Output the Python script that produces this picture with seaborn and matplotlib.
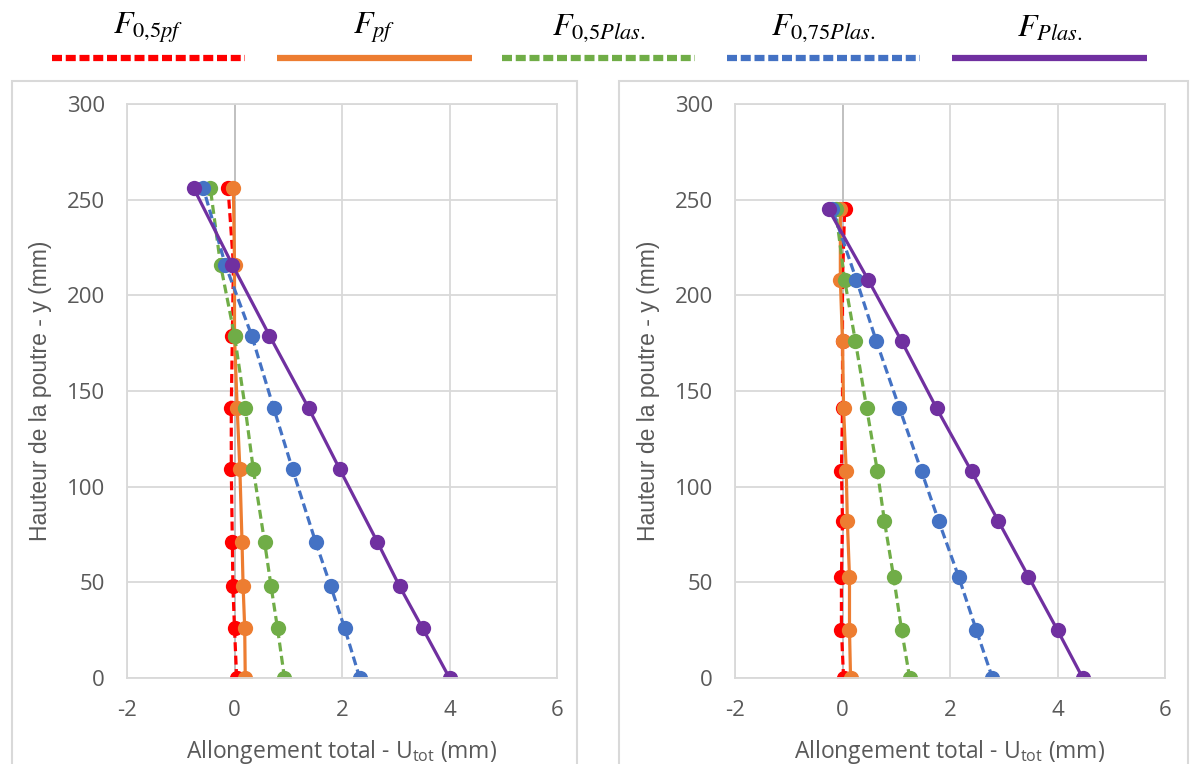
import matplotlib
matplotlib.use('Agg')
import matplotlib.pyplot as plt
import seaborn as sns
import pandas as pd
from matplotlib.lines import Line2D
from matplotlib.patches import Rectangle

# series keys and legend labels
series = ['F05pf', 'Fpf', 'F05plas', 'F075plas', 'Fplas']
labels = [r'$F_{0{,}5pf}$', r'$F_{pf}$', r'$F_{0{,}5Plas.}$',
          r'$F_{0{,}75Plas.}$', r'$F_{Plas.}$']

# left panel - heights (mm) and elongations (mm)
left_y = [0, 26, 48, 71, 109, 141, 179, 216, 256]
left_red = [0.04, 0.00, -0.03, -0.04, -0.06, -0.06, -0.04, -0.02, -0.12]
left_orange = [0.20, 0.19, 0.16, 0.14, 0.10, 0.05, 0.00, 0.00, -0.02]
left_green = [0.93, 0.80, 0.68, 0.56, 0.35, 0.20, 0.00, -0.26, -0.45]
left_blue = [2.33, 2.05, 1.79, 1.51, 1.08, 0.73, 0.32, -0.17, -0.58]
left_purple = [4.00, 3.50, 3.07, 2.66, 1.96, 1.38, 0.65, -0.04, -0.76]

# right panel
right_y = [0, 25, 53, 82, 108, 141, 176, 208, 245]
right_red = [0.02, -0.02, -0.02, 0.00, -0.02, 0.00, 0.00, 0.00, 0.04]
right_orange = [0.15, 0.13, 0.13, 0.09, 0.07, 0.02, 0.00, -0.04, -0.04]
right_green = [1.25, 1.10, 0.95, 0.78, 0.65, 0.45, 0.24, 0.04, -0.13]
right_blue = [2.79, 2.49, 2.16, 1.79, 1.47, 1.06, 0.63, 0.26, -0.19]
right_purple = [4.47, 4.00, 3.46, 2.90, 2.40, 1.75, 1.10, 0.48, -0.26]

x_ticks = [-2, 0, 2, 4, 6]
y_ticks = [0, 50, 100, 150, 200, 250, 300]

colors = {'F05pf': '#FF0000', 'Fpf': '#ED7D31', 'F05plas': '#70AD47',
          'F075plas': '#4472C4', 'Fplas': '#7030A0'}
dashes = {'F05pf': (2.8, 1.4), 'Fpf': '', 'F05plas': (2.8, 1.4),
          'F075plas': (2.8, 1.4), 'Fplas': ''}
markers = {k: 'o' for k in series}


def to_frame(ys, cols):
    rows = []
    for key, vals in zip(series, cols):
        for u, y in zip(vals, ys):
            rows.append({'serie': key, 'u': u, 'y': y})
    return pd.DataFrame(rows)


left_df = to_frame(left_y, [left_red, left_orange, left_green, left_blue, left_purple])
right_df = to_frame(right_y, [right_red, right_orange, right_green, right_blue, right_purple])

sns.set_style('white')
plt.rcParams['font.family'] = ['Open Sans', 'DejaVu Sans']
plt.rcParams['mathtext.fontset'] = 'stix'
plt.rcParams['axes.unicode_minus'] = False

W, H = 1192, 764
fig = plt.figure(figsize=(W / 100, H / 100), dpi=100)

grey_text = '#595959'
grid_c = '#D9D9D9'

# chart area frames
for x0, x1 in [(12, 577), (619, 1188)]:
    fig.patches.append(Rectangle((x0 / W, -0.05), (x1 - x0) / W, 1.05 - 81 / H,
                                 transform=fig.transFigure, fill=False,
                                 edgecolor=grid_c, lw=1.5))


def panel(df, left_px):
    ax = fig.add_axes([left_px / W, 1 - 678 / H, 430 / W, 574 / H])
    ax.set_xlim(-2, 6)
    ax.set_ylim(0, 300)
    ax.set_xticks(x_ticks)
    ax.set_yticks(y_ticks)
    ax.grid(True, color=grid_c, lw=1.3)
    ax.set_axisbelow(True)
    for s in ax.spines.values():
        s.set_color(grid_c)
        s.set_linewidth(1.3)
    ax.axvline(0, color='#BFBFBF', lw=1.3, zorder=1)
    sns.lineplot(data=df, x='u', y='y', hue='serie', style='serie',
                 hue_order=series, style_order=series, palette=colors,
                 dashes=dashes, markers=markers, sort=False, estimator=None,
                 lw=2.3, markersize=11, markeredgewidth=0, legend=False, ax=ax)
    ax.tick_params(length=0, labelsize=16, labelcolor=grey_text)
    ax.tick_params(axis='y', pad=16)
    ax.tick_params(axis='x', pad=16)
    ax.set_xlabel(r'Allongement total - U$_{\mathregular{tot}}$ (mm)',
                  fontsize=16.5, color=grey_text)
    ax.xaxis.set_label_coords(0.5, -0.105)
    ax.set_ylabel('Hauteur de la poutre - y (mm)', fontsize=16.5, color=grey_text,
                  family=['Liberation Sans', 'DejaVu Sans'])
    ax.yaxis.set_label_coords(-0.175, 0.5)
    return ax


panel(left_df, 127)
panel(right_df, 735)

# legend drawn above the panels: labels on top, line samples below
legend_x = [(52, 245), (277, 472), (502, 695), (727, 920), (952, 1147)]
for key, lab, (x0, x1) in zip(series, labels, legend_x):
    fig.text((x0 + x1) / 2 / W, 1 - 28 / H, lab, ha='center', va='center',
             fontsize=23, color='black')
    ln = Line2D([x0 / W, x1 / W], [1 - 58 / H, 1 - 58 / H], transform=fig.transFigure,
                color=colors[key], lw=4.5, solid_capstyle='butt', dash_capstyle='butt')
    if dashes[key]:
        ln.set_dashes((1.6, 0.6))
    fig.add_artist(ln)

fig.savefig('out.png', dpi=100)
